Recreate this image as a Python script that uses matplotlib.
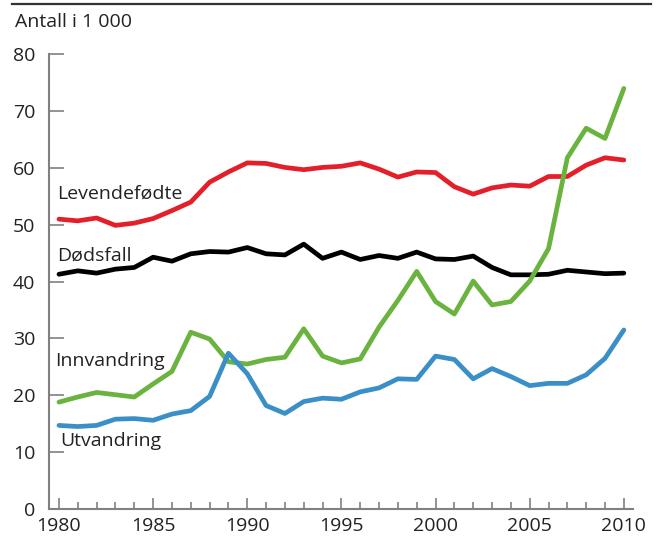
import numpy as np
import matplotlib.pyplot as plt
from matplotlib.lines import Line2D

plt.rcParams['font.family'] = ['Open Sans', 'DejaVu Sans']

years = np.arange(1980, 2011)

# Antall i 1 000
levendefodte = [51.0, 50.7, 51.2, 49.9, 50.3, 51.1, 52.5, 54.0, 57.5, 59.3,
                60.9, 60.8, 60.1, 59.7, 60.1, 60.3, 60.9, 59.8, 58.4, 59.3,
                59.2, 56.7, 55.4, 56.5, 57.0, 56.8, 58.5, 58.5, 60.5, 61.8,
                61.4]
dodsfall = [41.3, 41.9, 41.5, 42.2, 42.5, 44.3, 43.6, 44.9, 45.3, 45.2,
            46.0, 44.9, 44.7, 46.6, 44.1, 45.2, 43.9, 44.6, 44.1, 45.2,
            44.0, 43.9, 44.5, 42.5, 41.2, 41.2, 41.3, 42.0, 41.7, 41.4,
            41.5]
innvandring = [18.8, 19.7, 20.5, 20.1, 19.7, 22.0, 24.2, 31.1, 29.9, 25.9,
               25.5, 26.3, 26.7, 31.7, 26.9, 25.7, 26.4, 32.0, 36.7, 41.8,
               36.5, 34.3, 40.1, 35.9, 36.5, 40.1, 45.8, 61.8, 67.0, 65.2,
               74.0]
utvandring = [14.7, 14.5, 14.7, 15.8, 15.9, 15.6, 16.7, 17.3, 19.8, 27.4,
              23.8, 18.2, 16.8, 18.9, 19.5, 19.3, 20.6, 21.3, 22.9, 22.8,
              26.9, 26.3, 22.9, 24.7, 23.3, 21.7, 22.1, 22.1, 23.6, 26.5,
              31.5]

fig = plt.figure(figsize=(6.62, 5.38), dpi=100)
ax = fig.add_axes([0.074, 0.054, 0.882, 0.845])

lw = 3.4
ax.plot(years, levendefodte, color='#e3202a', lw=lw, solid_capstyle='round', solid_joinstyle='round')
ax.plot(years, dodsfall, color='black', lw=lw, solid_capstyle='round', solid_joinstyle='round')
ax.plot(years, innvandring, color='#6ab33f', lw=lw, solid_capstyle='round', solid_joinstyle='round')
ax.plot(years, utvandring, color='#3a8fc7', lw=lw, solid_capstyle='round', solid_joinstyle='round')

txt = dict(fontsize=14, color='#222222', va='center', ha='left')
ax.text(1979.9, 55.5, 'Levendefødte', **txt)
ax.text(1979.9, 44.5, 'Dødsfall', **txt)
ax.text(1979.8, 26.0, 'Innvandring', **txt)
ax.text(1980.05, 11.9, 'Utvandring', **txt)

ax.set_xlim(1979.47, 2010.48)
ax.set_ylim(0, 80)
ax.set_yticks(range(0, 81, 10))
ax.set_xticks(range(1980, 2011, 5))
ax.set_xticks(range(1980, 2011), minor=True)

for s in ['top', 'right']:
    ax.spines[s].set_visible(False)
for s in ['left', 'bottom']:
    ax.spines[s].set_color('#808080')
    ax.spines[s].set_linewidth(1.5)

ax.tick_params(axis='y', direction='in', length=11, width=1.2, color='#808080',
               labelsize=14, labelcolor='#222222', pad=10)
ax.tick_params(axis='x', which='major', direction='in', length=8, width=1.2,
               color='#808080', labelsize=14, labelcolor='#222222', pad=6)
ax.tick_params(axis='x', which='minor', direction='in', length=5, width=1.2,
               color='#808080')

fig.text(0.023, 0.96, 'Antall i 1 000', fontsize=14, color='#222222', va='center', ha='left')
fig.add_artist(Line2D([0.018, 0.983], [0.992, 0.992], color='#333333', lw=1.6,
                      transform=fig.transFigure))

fig.savefig('out.png', dpi=100)
